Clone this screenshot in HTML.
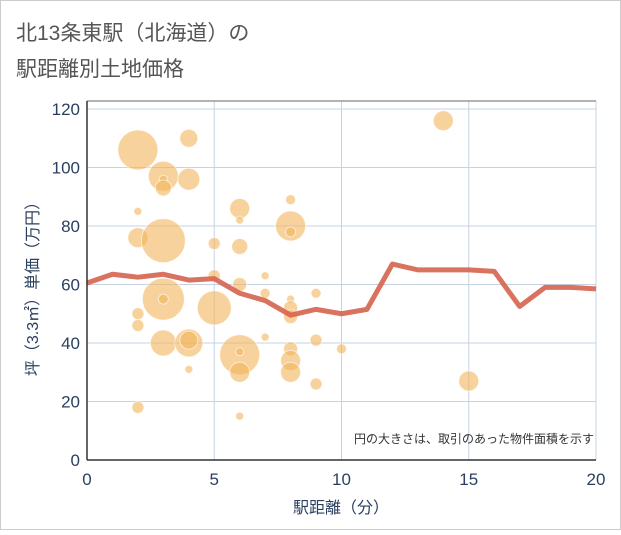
<!DOCTYPE html>
<html><head><meta charset="utf-8"><style>
body{margin:0;background:#fff;}
svg text{font-family:"Liberation Sans","Noto Sans CJK JP",sans-serif;}
</style></head><body>
<svg width="621" height="530" xmlns="http://www.w3.org/2000/svg">
<rect x="0.5" y="0.5" width="620" height="529" fill="#fff" stroke="#ccc"/>
<text x="16" y="40" font-size="21" fill="#555">北13条東駅（北海道）の</text>
<text x="16" y="76" font-size="21" fill="#555">駅距離別土地価格</text>
<g id="grid"></g>
<g id="bubbles"></g>
<g id="line"></g>
<g id="axes"></g>
<text x="594" y="443" font-size="12" fill="#333" text-anchor="end">円の大きさは、取引のあった物件面積を示す</text>
<text x="341" y="513" font-size="16" fill="#2a3f5f" text-anchor="middle">駅距離（分）</text>
<text transform="translate(38,285) rotate(-90)" font-size="16" fill="#2a3f5f" text-anchor="middle">坪（3.3㎡）単価（万円）</text>
</svg>
<script>
const xTicks=[0,5,10,15,20];
const yTicks=[0,20,40,60,80,100,120];
const lineX=[0,1,2,3,4,5,6,7,8,9,10,11,12,13,14,15,16,17,18,19,20];
const lineY=[60.5,63.5,62.5,63.5,61.5,62,57,54.5,49.5,51.5,50,51.5,67,65,65,65,64.5,52.5,59,59,58.5];
const bubX=[2,4,3,3,3,4,2,5,6,6,6,8,8,8,2,3,5,6,7,7,9,3,3,2,2,5,8,8,8,3,4,4,7,9,10,6,6,6,8,8,8,4,9,2,6,14,15];
const bubY=[106,110,97,96,93,96,85,74,86,82,73,89,80,78,76,75,63,60,63,57,57,55,55,50,46,52,55,52,49,40,40,41,42,41,38,36,37,30,38,34,30,31,26,18,15,116,27];
const bubR=[20,9,15,4,8,11,4,6,10,4,8,5,15,5,10,22,6,7,4,5,5,21,5,6,6,17,4,7,7,13,14,9,4,6,5,20,4,10,7,10,10,4,6,6,4,10,10];
const ns="http://www.w3.org/2000/svg";
const X0=87,X1=596,Y0=460,Y1=109;
const sx=v=>X0+(v-0)/(20-0)*(X1-X0);
const sy=v=>Y0-(v-0)/(120-0)*(Y0-Y1);
function mk(t,a,p){const e=document.createElementNS(ns,t);for(const k in a)e.setAttribute(k,a[k]);p.appendChild(e);return e;}
const grid=document.getElementById('grid'),axes=document.getElementById('axes');
xTicks.forEach(v=>{
  const l=mk('line',{x1:sx(v),x2:sx(v),y1:Y1-8,y2:Y0,stroke:'#c5d3e3','stroke-width':1},grid);
  
  
  const t=mk('text',{x:sx(v),y:Y0+25,'font-size':17,fill:'#2a3f5f','text-anchor':'middle'},axes);
  t.textContent=v;
  
  
});
yTicks.forEach(v=>{
  const l=mk('line',{x1:X0,x2:X1,y1:sy(v),y2:sy(v),stroke:'#c5d3e3','stroke-width':1},grid);
  
  
  const t=mk('text',{x:X0-7,y:sy(v)+6,'font-size':17,fill:'#2a3f5f','text-anchor':'end'},axes);
  t.textContent=v;
  
  
});
const plotTop=mk('line',{x1:X0,x2:X1,y1:Y1-8,y2:Y1-8,stroke:'#999','stroke-width':1.5},axes);


const yAxisLine=mk('line',{x1:X0,x2:X0,y1:Y1-8,y2:Y0,stroke:'#333','stroke-width':1.5},axes);


const xAxisLine=mk('line',{x1:X0,x2:X1,y1:Y0,y2:Y0,stroke:'#333','stroke-width':1.5},axes);


const bg=document.getElementById('bubbles');
bubX.forEach((v,i)=>{
  const c=mk('circle',{cx:sx(v),cy:sy(bubY[i]),r:bubR[i],fill:'rgba(242,180,90,0.6)',stroke:'rgba(255,255,255,0.6)','stroke-width':1},bg);
  
  
});
const d=lineX.map((v,i)=>(i?'L':'M')+sx(v)+','+sy(lineY[i])).join(' ');
const p=mk('path',{d:d,fill:'none',stroke:'#d6634f','stroke-width':5,'stroke-linejoin':'round',opacity:0.9},document.getElementById('line'));


</script>
</body></html>
